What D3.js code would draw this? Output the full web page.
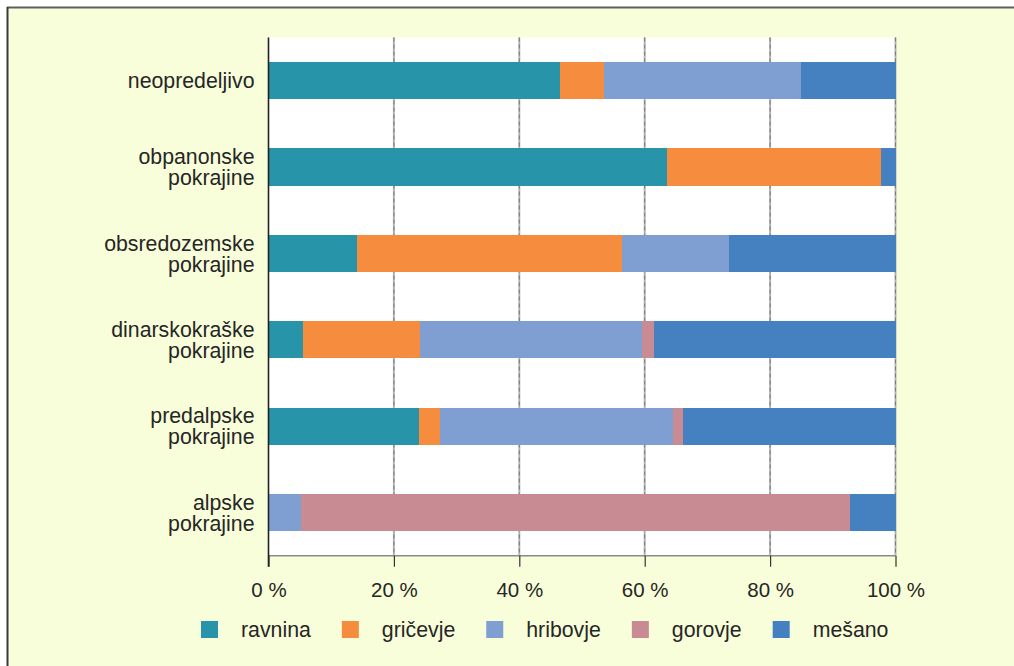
<!DOCTYPE html>
<html><head><meta charset="utf-8">
<script src="https://cdn.jsdelivr.net/npm/d3@7"></script>
<style>body{margin:0;background:#fff}svg{display:block}</style>
</head><body><svg id="c" width="1014" height="666"></svg>
<script>
const categories = ["neopredeljivo", "obpanonske pokrajine", "obsredozemske pokrajine", "dinarskokraške pokrajine", "predalpske pokrajine", "alpske pokrajine"];
const seriesNames = ["ravnina", "gričevje", "hribovje", "gorovje", "mešano"];
const ravnina  = [46.5, 63.6, 14.1, 5.5, 24.0, 0];
const gricevje = [7.0, 34.1, 42.3, 18.7, 3.4, 0];
const hribovje = [31.4, 0, 17.0, 35.4, 37.1, 5.2];
const gorovje  = [0, 0, 0, 1.9, 1.6, 87.5];
const mesano   = [15.1, 2.3, 26.6, 38.5, 33.9, 7.3];
const seriesColors = ["#2894a9", "#f58c3e", "#7f9ed2", "#c98b93", "#4580c1"];
const tickValues = [0, 20, 40, 60, 80, 100];

const seriesValues = [ravnina, gricevje, hribovje, gorovje, mesano];
const rows = categories.map((c, i) => {
  const r = {cat: c};
  seriesNames.forEach((s, j) => r[s] = seriesValues[j][i]);
  return r;
});

const svg = d3.select("#c");
const font = "'Liberation Sans', Arial, Helvetica, sans-serif";
const W = 1014, H = 666;

// frame
svg.append("rect").attr("x", 7).attr("y", 7).attr("width", W - 7).attr("height", H - 7).attr("fill", "#f8fed9");
svg.append("line").attr("x1", 7).attr("x2", W).attr("y1", 7.5).attr("y2", 7.5).attr("stroke", "#5e5e5e").attr("stroke-width", 2);
svg.append("line").attr("x1", 7.5).attr("x2", 7.5).attr("y1", 7).attr("y2", H).attr("stroke", "#3a3a3a").attr("stroke-width", 2);

const pL = 268.5, pR = 895.5, pT = 37.5, pB = 555.7;
const x = d3.scaleLinear().domain([0, 100]).range([pL, pR]);
const y = d3.scaleBand().domain(categories).range([pT, pB]).paddingInner(0.57).paddingOuter(0.285);

// plot background
svg.append("rect").attr("x", pL).attr("y", pT).attr("width", pR - pL).attr("height", pB - pT).attr("fill", "#fff");

// gridlines
const grid = svg.append("g");
tickValues.filter(d => d > 0).forEach(d => {
  grid.append("line").attr("x1", x(d)).attr("x2", x(d)).attr("y1", pT).attr("y2", pB)
    .attr("stroke", "#b4b4b4").attr("stroke-width", 2);
  grid.append("line").attr("x1", x(d)).attr("x2", x(d)).attr("y1", pT).attr("y2", pB)
    .attr("stroke", "#7a7a7a").attr("stroke-width", 1).attr("stroke-dasharray", "4,3");
});

// bars
const stack = d3.stack().keys(seriesNames);
const layers = stack(rows);
svg.append("g").selectAll("g").data(layers).join("g")
  .attr("fill", (d, i) => seriesColors[i])
  .selectAll("rect").data(d => d).join("rect")
  .attr("x", d => x(d[0]))
  .attr("width", d => x(d[1]) - x(d[0]))
  .attr("y", d => y(d.data.cat))
  .attr("height", y.bandwidth())
  .attr("shape-rendering", "crispEdges");

// bottom border
svg.append("line").attr("x1", pL).attr("x2", pR).attr("y1", pB).attr("y2", pB)
  .attr("stroke", "#8a8a8a").attr("stroke-width", 1.5);

// x axis
const xAxis = d3.axisBottom(x).tickValues(tickValues).tickSize(11).tickPadding(16).tickFormat(d => d + " %");
const gx = svg.append("g").attr("transform", `translate(0,${pB})`).call(xAxis);
gx.select(".domain").remove();
gx.selectAll(".tick line").attr("stroke", "#333").attr("stroke-width", 1.2);
gx.selectAll(".tick text").attr("font-family", font).attr("font-size", 20.5).attr("fill", "#262626");

// left axis line
svg.append("line").attr("x1", pL).attr("x2", pL).attr("y1", pT).attr("y2", pB + 11)
  .attr("stroke", "#222").attr("stroke-width", 1.6);

// category labels
const lab = svg.append("g").attr("font-family", font).attr("font-size", 21.3).attr("fill", "#262626").attr("text-anchor", "end");
categories.forEach(c => {
  const lines = c.split(" ");
  const cy = y(c) + y.bandwidth() / 2;
  const lh = 21;
  const t = lab.append("text").attr("x", 254.5).attr("y", cy);
  lines.forEach((l, i) => {
    t.append("tspan").attr("x", 254.5).attr("y", cy + (i - (lines.length - 1) / 2) * lh).attr("dy", "0.36em").text(l);
  });
});

// legend
const leg = svg.append("g").attr("font-family", font).attr("font-size", 21.3).attr("fill", "#262626");
let lx = 201;
seriesNames.forEach((s, i) => {
  leg.append("rect").attr("x", lx).attr("y", 621).attr("width", 17).attr("height", 17).attr("fill", seriesColors[i]);
  const t = leg.append("text").attr("x", lx + 40).attr("y", 637).text(s);
  lx = lx + 40 + t.node().getComputedTextLength() + 31;
});
</script>
</body></html>
